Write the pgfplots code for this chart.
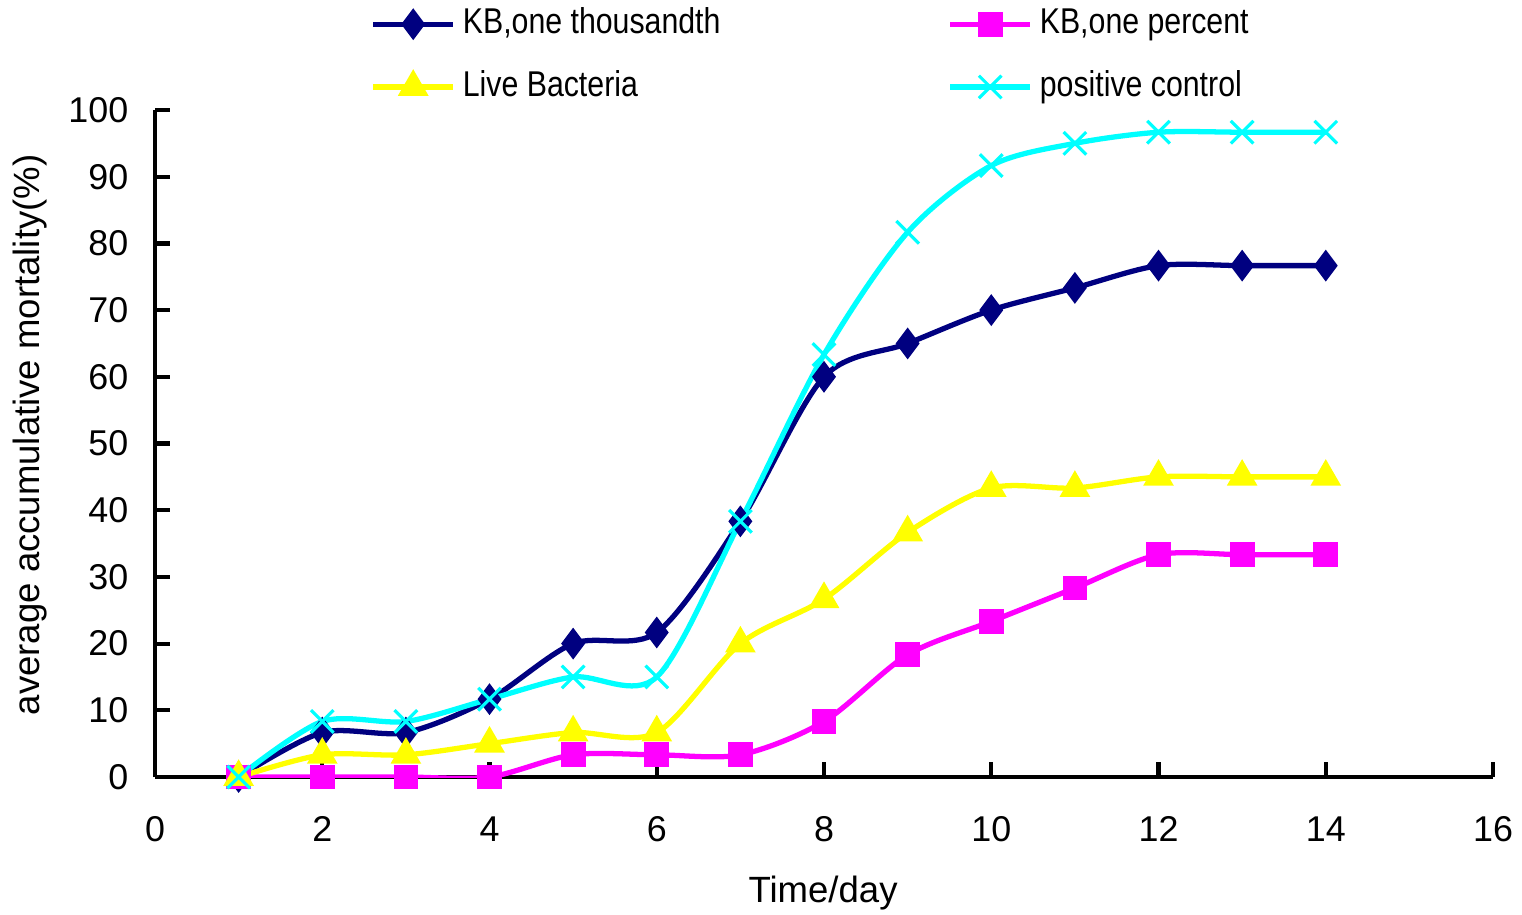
\documentclass[border=0pt]{standalone}
\usepackage{pgfplots}
\pgfplotsset{compat=1.18}
\usepackage{fontspec}
\setmainfont{Liberation Sans}
\newfontfamily\legfont[FakeStretch=0.845]{Liberation Sans}
\definecolor{cnavy}{RGB}{0,0,128}
\definecolor{cmag}{RGB}{255,0,255}
\definecolor{cyel}{RGB}{255,255,0}
\definecolor{ccyan}{RGB}{0,255,255}
\begin{document}
\fontsize{10.2}{12}\selectfont
\begin{tikzpicture}
\path[use as bounding box] (-1.55cm,-1.37cm) rectangle (13.67cm,7.77cm);
\begin{axis}[
  at={(0,0)}, anchor=south west,
  scale only axis, width=13.38cm, height=6.67cm,
  xmin=0, xmax=16, ymin=0, ymax=100,
  xtick={0,2,...,16}, ytick={0,10,...,100},
  axis x line*=bottom, axis y line*=left,
  axis line style={line width=1.2pt, -},
  tick style={line width=1.2pt, black},
  tick align=inside, major tick length=1.5mm,
  /pgf/number format/assume math mode=true,
  ticklabel style={font=\fontsize{10.2}{12}\selectfont},
  xticklabel style={inner sep=0pt, anchor=north, yshift=-3.9mm},
  yticklabel style={inner sep=0pt, anchor=east, xshift=-2.6mm},
  xlabel={Time/day},
  ylabel={average accumulative mortality(\%)},
  label style={font=\fontsize{10.4}{12}\selectfont},
  xlabel style={at={(axis description cs:0.4993,-0.174)}, anchor=center},
  ylabel style={at={(axis description cs:-0.0934,0.513)}, anchor=center, rotate=0},
  legend columns=2,
  legend cell align=left,
  legend style={draw=none, fill=none, inner sep=0pt,
    at={(rel axis cs:0.1606,1.155)}, anchor=north west,
    font=\legfont\fontsize{10.2}{12}\selectfont,
    nodes={inner sep=0pt, text height=7.4pt, text depth=2.2pt},
    row sep=2.9mm,
    /tikz/column 1/.style={column sep=0.7mm},
    /tikz/column 2/.style={column sep=2.27cm},
    /tikz/column 3/.style={column sep=0.7mm}},
  legend image code/.code={\draw[mark repeat=2,mark phase=2,#1] plot coordinates {(0cm,0cm) (0.4cm,0cm) (0.8cm,0cm)};},
  every axis plot/.append style={line width=1.5pt, smooth, tension=0.5},
]
\addplot[color=cnavy, mark=diamond*, mark size=1.45mm, mark options={solid, fill=cnavy, line width=0.5pt}] coordinates {
(1,0) (2,6.67) (3,6.67) (4,11.67) (5,20) (6,21.67) (7,38.33) (8,60) (9,65) (10,70) (11,73.33) (12,76.67) (13,76.67) (14,76.67)};
\addlegendentry{KB,one thousandth}
\addplot[color=cmag, mark=square*, mark size=1.15mm, mark options={solid, fill=cmag, line width=0.5pt}] coordinates {
(1,0) (2,0) (3,0) (4,0) (5,3.33) (6,3.33) (7,3.33) (8,8.33) (9,18.33) (10,23.33) (11,28.33) (12,33.33) (13,33.33) (14,33.33)};
\addlegendentry{KB,one percent}
\addplot[color=cyel, mark=triangle*, mark size=1.6mm, mark options={solid, fill=cyel, line width=0.5pt}] coordinates {
(1,0) (2,3.33) (3,3.33) (4,5) (5,6.67) (6,6.67) (7,20) (8,26.67) (9,36.67) (10,43.33) (11,43.33) (12,45) (13,45) (14,45)};
\addlegendentry{Live Bacteria}
\addplot[color=ccyan, mark=x, mark size=1.6mm, mark options={solid, line width=0.9pt}] coordinates {
(1,0) (2,8.33) (3,8.33) (4,11.67) (5,15) (6,15) (7,38.33) (8,63.33) (9,81.67) (10,91.67) (11,95) (12,96.67) (13,96.67) (14,96.67)};
\addlegendentry{positive control}
\end{axis}
\end{tikzpicture}
\end{document}
